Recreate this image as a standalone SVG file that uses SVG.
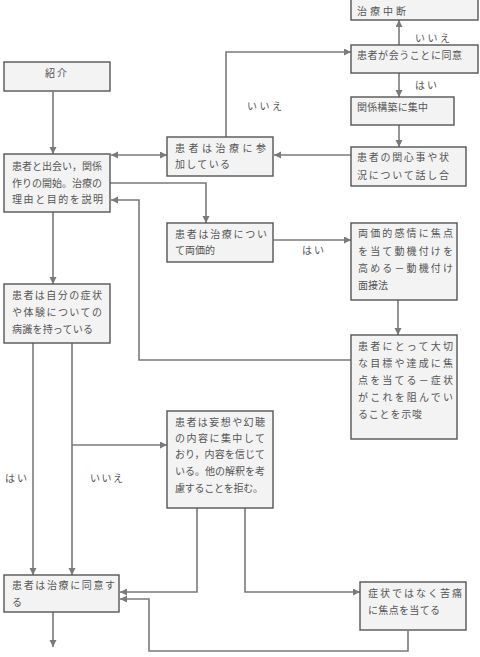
<svg xmlns="http://www.w3.org/2000/svg" width="480" height="657" viewBox="0 0 480 657">
<defs>
<marker id="ah" markerUnits="userSpaceOnUse" markerWidth="8" markerHeight="8" refX="7" refY="3.5" orient="auto-start-reverse">
<path d="M0,0 L7,3.5 L0,7 z" fill="#7a7a7a"/>
</marker>
<style>
.box{fill:#f3f3f3;stroke:#555;stroke-width:1.4}
.t{font-family:"Noto Sans CJK JP","Noto Sans",sans-serif;font-size:10px;fill:#555}
.lb{font-family:"Noto Sans CJK JP","Noto Sans",sans-serif;font-size:10px;fill:#555}
.c{fill:none;stroke:#7a7a7a;stroke-width:1.6}
</style>
</defs>
<rect width="480" height="657" fill="#fff"/>

<g id="connectors">
<path class="c" d="M53,92 V154" marker-end="url(#ah)"/>
<path class="c" d="M111,155 H167" marker-start="url(#ah)" marker-end="url(#ah)"/>
<path class="c" d="M226,137 V52 H351" marker-end="url(#ah)"/>
<path class="c" d="M399,45 V20" marker-end="url(#ah)"/>
<path class="c" d="M399,73 V97" marker-end="url(#ah)"/>
<path class="c" d="M399,125 V147" marker-end="url(#ah)"/>
<path class="c" d="M351,155 H274" marker-end="url(#ah)"/>
<path class="c" d="M110,183 H206 V223" marker-end="url(#ah)"/>
<path class="c" d="M351,360 H139 V200 H111" marker-end="url(#ah)"/>
<path class="c" d="M273,240 H351" marker-end="url(#ah)"/>
<path class="c" d="M398,300 V335" marker-end="url(#ah)"/>
<path class="c" d="M53,212 V284" marker-end="url(#ah)"/>
<path class="c" d="M33,343 V575" marker-end="url(#ah)"/>
<path class="c" d="M72,343 V575" marker-end="url(#ah)"/>
<path class="c" d="M72,445 H167" marker-end="url(#ah)"/>
<path class="c" d="M197,508 V592 H120" marker-end="url(#ah)"/>
<path class="c" d="M245,508 V592 H360" marker-end="url(#ah)"/>
<path class="c" d="M408,631 V651 H149 V599 H120" marker-end="url(#ah)"/>
<path class="c" d="M53,610 V647" marker-end="url(#ah)"/>
<text class="lb" x="247" y="110" textLength="35" lengthAdjust="spacing">いいえ</text>
<text class="lb" x="415" y="42" textLength="35" lengthAdjust="spacing">いいえ</text>
<text class="lb" x="415" y="89" textLength="22" lengthAdjust="spacing">はい</text>
<text class="lb" x="302" y="254" textLength="22" lengthAdjust="spacing">はい</text>
<text class="lb" x="5" y="482" textLength="22" lengthAdjust="spacing">はい</text>
<text class="lb" x="90" y="482" textLength="33" lengthAdjust="spacing">いいえ</text>
</g>

<g id="n-shokai">
<rect class="box" x="4" y="62" width="106" height="29"/>
<text class="t" x="45" y="77" font-size="11" textLength="22" lengthAdjust="spacing">紹介</text>
</g>

<g id="n-chudan">
<rect class="box" x="351" y="-2" width="127" height="22"/>
<text class="t" x="357" y="15" font-size="11" textLength="49" lengthAdjust="spacing">治療中断</text>
</g>

<g id="n-doi">
<rect class="box" x="351" y="45" width="127" height="28"/>
<text class="t" x="357" y="59" textLength="105" lengthAdjust="spacing">患者が会うことに同意</text>
</g>

<g id="n-kankei">
<rect class="box" x="351" y="97" width="103" height="28"/>
<text class="t" x="357" y="111" textLength="71" lengthAdjust="spacing">関係構築に集中</text>
</g>

<g id="n-kanshin">
<rect class="box" x="351" y="147" width="115" height="39"/>
<text class="t" x="357" y="161" textLength="92" lengthAdjust="spacing">患者の関心事や状</text>
<text class="t" x="357" y="179" textLength="92" lengthAdjust="spacing">況について話し合</text>
</g>

<g id="n-sanka">
<rect class="box" x="167" y="137" width="106" height="39"/>
<text class="t" x="175" y="152" textLength="91" lengthAdjust="spacing">患者は治療に参</text>
<text class="t" x="175" y="168" textLength="55" lengthAdjust="spacing">加している</text>
</g>

<g id="n-deai">
<rect class="box" x="4" y="154" width="106" height="58"/>
<text class="t" x="12" y="170" textLength="90" lengthAdjust="spacing">患者と出会い，関係</text>
<text class="t" x="12" y="187" textLength="90" lengthAdjust="spacing">作りの開始。治療の</text>
<text class="t" x="12" y="203" textLength="91" lengthAdjust="spacing">理由と目的を説明</text>
</g>

<g id="n-ryokachi">
<rect class="box" x="167" y="223" width="106" height="39"/>
<text class="t" x="175" y="238" textLength="92" lengthAdjust="spacing">患者は治療につい</text>
<text class="t" x="175" y="254" textLength="40" lengthAdjust="spacing">て両価的</text>
</g>

<g id="n-mensetsu">
<rect class="box" x="351" y="223" width="106" height="77"/>
<text class="t" x="358" y="237" textLength="95" lengthAdjust="spacing">両価的感情に焦点</text>
<text class="t" x="358" y="255" textLength="95" lengthAdjust="spacing">を当て動機付けを</text>
<text class="t" x="358" y="272" textLength="95" lengthAdjust="spacing">高める－動機付け</text>
<text class="t" x="358" y="289">面接法</text>
</g>

<g id="n-mokuhyo">
<rect class="box" x="351" y="335" width="106" height="104"/>
<text class="t" x="358" y="350" textLength="95" lengthAdjust="spacing">患者にとって大切</text>
<text class="t" x="358" y="367" textLength="95" lengthAdjust="spacing">な目標や達成に焦</text>
<text class="t" x="358" y="384" textLength="95" lengthAdjust="spacing">点を当てる－症状</text>
<text class="t" x="358" y="401" textLength="95" lengthAdjust="spacing">がこれを阻んでい</text>
<text class="t" x="358" y="418" textLength="64" lengthAdjust="spacing">ることを示唆</text>
</g>

<g id="n-byoshiki">
<rect class="box" x="4" y="284" width="106" height="59"/>
<text class="t" x="12" y="299" textLength="90" lengthAdjust="spacing">患者は自分の症状</text>
<text class="t" x="12" y="316" textLength="90" lengthAdjust="spacing">や体験についての</text>
<text class="t" x="12" y="333" textLength="81" lengthAdjust="spacing">病識を持っている</text>
</g>

<g id="n-moso">
<rect class="box" x="167" y="411" width="106" height="97"/>
<text class="t" x="175" y="426" textLength="90" lengthAdjust="spacing">患者は妄想や幻聴</text>
<text class="t" x="175" y="442" textLength="90" lengthAdjust="spacing">の内容に集中して</text>
<text class="t" x="175" y="458" textLength="90" lengthAdjust="spacing">おり，内容を信じて</text>
<text class="t" x="175" y="475" textLength="90" lengthAdjust="spacing">いる。他の解釈を考</text>
<text class="t" x="175" y="492" textLength="88" lengthAdjust="spacing">慮することを拒む。</text>
</g>

<g id="n-doisuru">
<rect class="box" x="4" y="575" width="115" height="37"/>
<text class="t" x="12" y="589" textLength="103" lengthAdjust="spacing">患者は治療に同意す</text>
<text class="t" x="12" y="606">る</text>
</g>

<g id="n-kutsu">
<rect class="box" x="360" y="582" width="106" height="48"/>
<text class="t" x="368" y="597" textLength="94" lengthAdjust="spacing">症状ではなく苦痛</text>
<text class="t" x="368" y="614" textLength="72" lengthAdjust="spacing">に焦点を当てる</text>
</g>
</svg>
